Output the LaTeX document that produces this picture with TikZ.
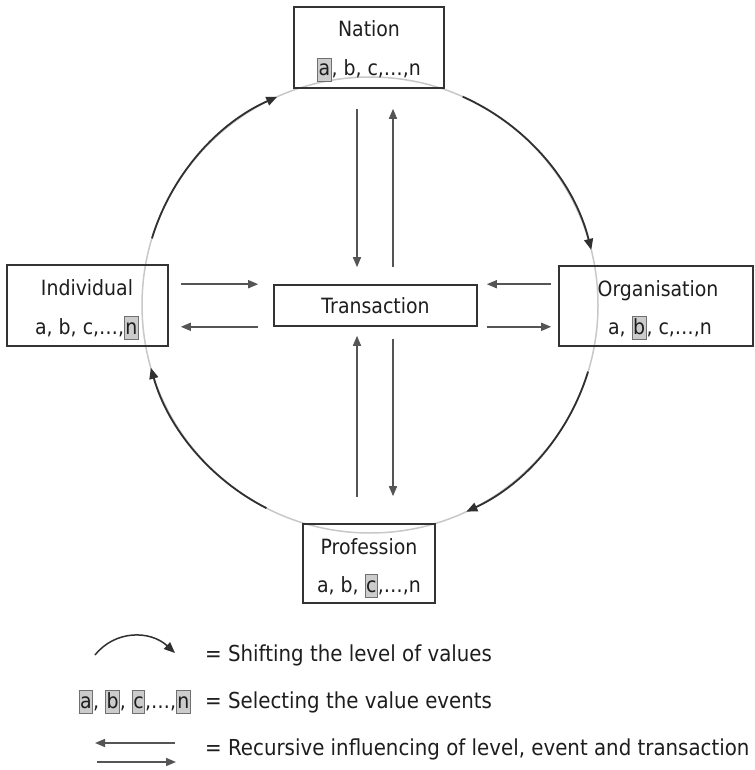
\documentclass[tikz,border=0pt]{standalone}
\usepackage{fontspec}
\setmainfont{DejaVu Sans}[FakeStretch=0.9]
\usetikzlibrary{arrows.meta,calc}
\definecolor{boxc}{HTML}{333333}
\definecolor{txtc}{HTML}{1E1E1E}
\definecolor{arrc}{HTML}{555555}
\definecolor{circc}{HTML}{C8C8C8}
\definecolor{arcc}{HTML}{303030}
\definecolor{hlfill}{HTML}{CCCCCC}
\definecolor{hlline}{HTML}{707070}
\newcommand\hlbox[1]{{\setlength\fboxsep{0.6pt}\setlength\fboxrule{0.8pt}\fcolorbox{hlline}{hlfill}{\rule[-4pt]{0pt}{21pt}#1}}}
\begin{document}
\begin{tikzpicture}[x=1pt,y=-1pt,
  box/.style={draw=boxc,line width=1.6pt,rectangle,inner sep=0pt},
  txt/.style={text=txtc,font=\fontsize{21}{25}\selectfont,inner sep=0pt,anchor=base},
  lgtxt/.style={txt,font=\fontsize{22}{26}\selectfont,anchor=base west},
  arr/.style={draw=arrc,line width=1.5pt,-{Triangle[length=10pt,width=8pt]}},
  circ/.style={draw=circc,line width=1.5pt},
  arcd/.style={draw=arcc,line width=1.8pt,-{Triangle[length=11pt,width=9pt]}}]
\useasboundingbox[fill=white] (0,0) rectangle (754,770);
% circle
\coordinate (c) at (370,305);
\draw[circ] (c) circle[radius=228];
\draw[arcd] ($(c)+(-163:228)$) arc[start angle=-163,end angle=-114,radius=228];
\draw[arcd] ($(c)+(-66:228)$) arc[start angle=-66,end angle=-14,radius=228];
\draw[arcd] ($(c)+(17:228)$) arc[start angle=17,end angle=65,radius=228];
\draw[arcd] ($(c)+(117:228)$) arc[start angle=117,end angle=164,radius=228];
% boxes
\node[box,minimum width=150pt,minimum height=81pt] (nat) at (369,47.5) {};
\node[txt] (natT) at (369,37) {Nation};
\node[txt] (natV) at (369,76) {\hlbox{a}, b, c,…,n};
\node[box,minimum width=161pt,minimum height=81pt] (ind) at (87.5,305.5) {};
\node[txt] (indT) at (87,295) {Individual};
\node[txt] (indV) at (87,334) {a, b, c,…,\hlbox{n}};
\node[box,minimum width=194pt,minimum height=80pt] (org) at (656,306) {};
\node[txt] (orgT) at (658,296) {Organisation};
\node[txt] (orgV) at (660,334) {a, \hlbox{b}, c,…,n};
\node[box,minimum width=203pt,minimum height=41pt] (tr) at (375.5,305.5) {};
\node[txt] (trT) at (375.5,313) {Transaction};
\node[box,minimum width=132pt,minimum height=79pt] (pro) at (369,563.5) {};
\node[txt] (proT) at (369,554) {Profession};
\node[txt] (proV) at (369,592) {a, b, \hlbox{c},…,n};
% arrows
\draw[arr] ($(ind.east |- tr.north)+(12,0)$) -- ($(tr.north west)+(-15,0)$);
\draw[arr] ($(tr.south west)+(-15,0)$) -- ($(ind.east |- tr.south)+(12,0)$);
\draw[arr] ($(org.west |- tr.north)+(-7,0)$) -- ($(tr.north east)+(9,0)$);
\draw[arr] ($(tr.south east)+(9,0)$) -- ($(org.west |- tr.south)+(-7,0)$);
\draw[arr] ($(nat.south)+(-12,20)$) -- ($(tr.north)+(-18.5,-17)$);
\draw[arr] ($(tr.north)+(17.5,-17)$) -- ($(nat.south)+(24,20)$);
\draw[arr] ($(pro.north)+(-12,-26)$) -- ($(tr.south)+(-18.5,9)$);
\draw[arr] ($(tr.south)+(17.5,12)$) -- ($(pro.north)+(24,-27)$);
% legend
\coordinate (l1a) at (95,655);
\coordinate (l1b) at (175,653);
\draw[arcd,line width=1.5pt] (l1a) .. controls (115,630) and (150,630) .. (l1b);
\node[lgtxt] (lt1) at (205,661) {= Shifting the level of values};
\node[txt,anchor=base east] (lv) at (191,708) {\hlbox{a}, \hlbox{b}, \hlbox{c},…,\hlbox{n}};
\node[lgtxt] (lt2) at (205,708) {= Selecting the value events};
\coordinate (l3a) at (175,743);
\coordinate (l3b) at (95,743);
\draw[arr] (l3a) -- (l3b);
\coordinate (l4a) at (97,762);
\coordinate (l4b) at (176,762);
\draw[arr] (l4a) -- (l4b);
\node[lgtxt] (lt3) at (205,755) {= Recursive influencing of level, event and transaction};
\end{tikzpicture}
\end{document}
